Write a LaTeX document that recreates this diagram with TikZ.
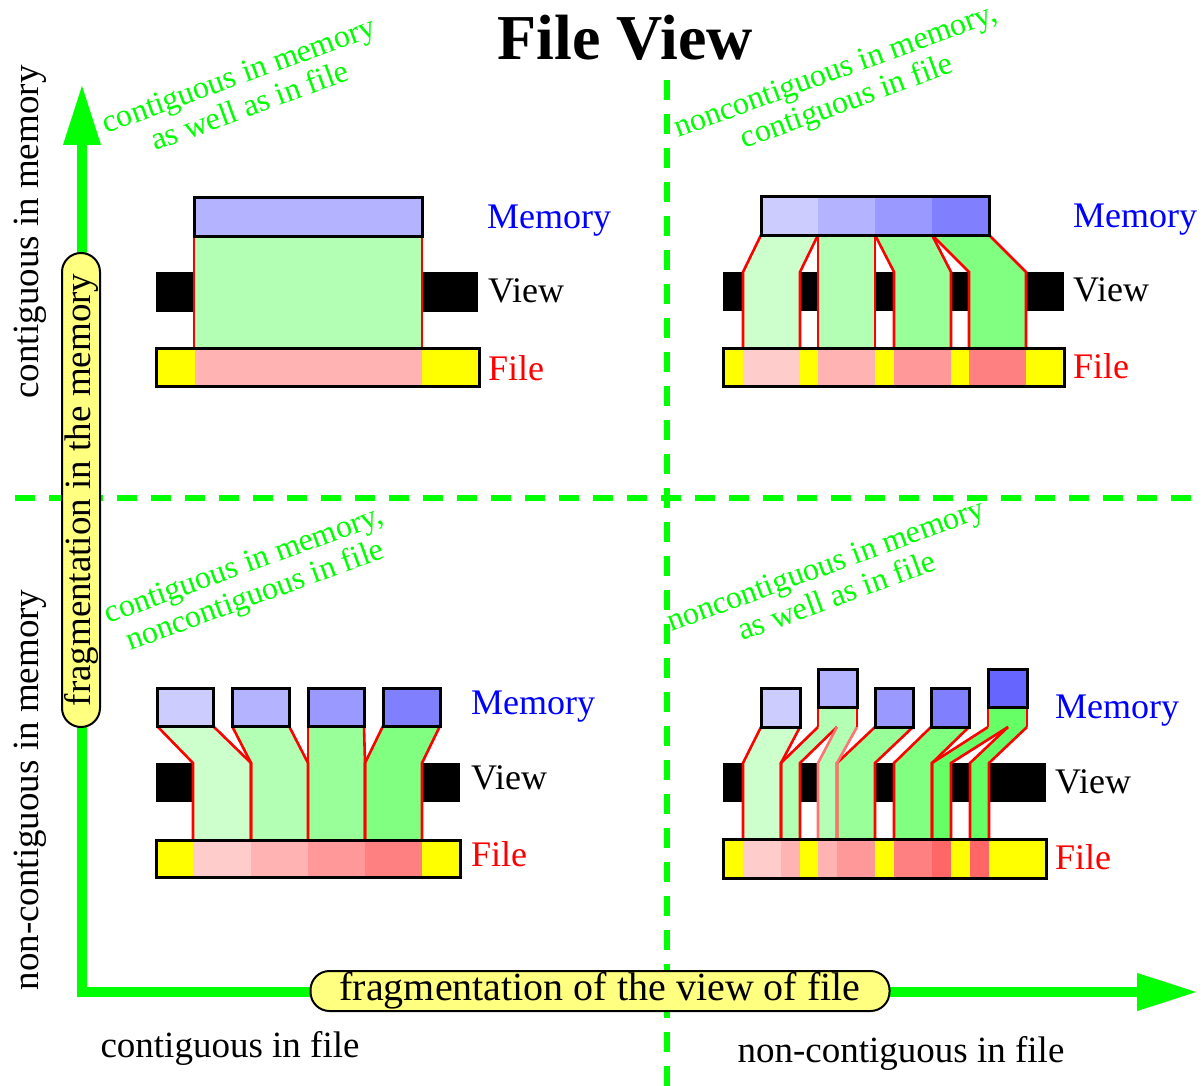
\documentclass[tikz,border=0pt]{standalone}
\usepackage{fontspec}
\setmainfont{Liberation Serif}
\usetikzlibrary{arrows.meta}

\definecolor{axisgreen}{HTML}{00FF00}
\definecolor{pillfill}{HTML}{FFFF80}
\definecolor{memblue}{HTML}{0000FF}
\definecolor{filered}{HTML}{FF0000}
\definecolor{gapyellow}{HTML}{FFFF00}
\definecolor{bA}{HTML}{CCCCFF}
\definecolor{bB}{HTML}{B3B3FF}
\definecolor{bC}{HTML}{9999FF}
\definecolor{bD}{HTML}{8080FF}
\definecolor{bE}{HTML}{6666FF}
\definecolor{gA}{HTML}{CCFFCC}
\definecolor{gB}{HTML}{B3FFB3}
\definecolor{gC}{HTML}{99FF99}
\definecolor{gD}{HTML}{80FF80}
\definecolor{gE}{HTML}{66FF66}
\definecolor{pA}{HTML}{FFCCCC}
\definecolor{pB}{HTML}{FFB3B3}
\definecolor{pC}{HTML}{FF9999}
\definecolor{pD}{HTML}{FF8080}
\definecolor{pE}{HTML}{FF6666}

% a flow piece: top span (x1,x2) at y_top, bent to (x3,x4) at y_bend, straight down to y_bot
\newcommand\flowfill[8]{\fill[#1] (#2,#4) -- (#3,#4) -- (#6,#7) -- (#6,#8) -- (#5,#8) -- (#5,#7) -- cycle;}
\newcommand\flowedge[8]{\draw[edge] (#2,#4) -- (#5,#7) -- (#5,#8); \draw[edge] (#3,#4) -- (#6,#7) -- (#6,#8);}
\newcommand\flowedgelight[8]{\draw[edge,draw=red!55] (#2,#4) -- (#5,#7) -- (#5,#8); \draw[edge,draw=red!55] (#3,#4) -- (#6,#7) -- (#6,#8);}

\begin{document}
\begin{tikzpicture}[x=1pt,y=-1pt,line join=miter,
  edge/.style={draw=filered,line width=2.6pt},
  frame/.style={draw=black,line width=3pt},
  viewbar/.style={fill=black},
  guide/.style={draw=axisgreen,line width=6pt,dash pattern=on 20pt off 14pt},
  axis/.style={draw=axisgreen,line width=10pt,
    {Triangle[length=61pt,width=35pt]}-{Triangle[length=61pt,width=35pt]}},
  pill/.style={draw=black,line width=2pt,fill=pillfill,rounded corners=19pt,
    inner sep=0pt,font=\fontsize{37}{40}\selectfont},
  axislabel/.style={font=\fontsize{37}{40}\selectfont,inner sep=0pt},
  quadlabel/.style={font=\fontsize{32}{33}\selectfont,text=axisgreen,
    rotate=20,align=center,inner sep=0pt},
  tag/.style={font=\fontsize{36}{40}\selectfont,inner sep=0pt,anchor=base west}]

\useasboundingbox (0,0) rectangle (1204,1086);

% quadrant separators
\draw[guide] (667,80) -- (667,1086);
\draw[guide] (15,498) -- (1204,498);

% axes
\draw[axis] (82,84) -- (82,992) -- (1198,992);
\node[pill,minimum width=474pt,minimum height=38pt,rotate=90] (fragmem) at (81,490) {fragmentation in the memory};
\node[pill,minimum width=579pt,minimum height=40pt,font=\fontsize{40}{42}\selectfont] (fragview) at (600,991) {fragmentation of the view of file};

% title and axis texts
\node[font=\bfseries\fontsize{64}{70}\selectfont,inner sep=0pt,anchor=base] (title) at (625,60) {File View};
\node[axislabel,rotate=90] (ymemc) at (30,232) {contiguous in memory};
\node[axislabel,rotate=90] (ymemn) at (30,790) {non-contiguous in memory};
\node[axislabel,anchor=base] (xfilec) at (230,1057) {contiguous in file};
\node[axislabel,anchor=base] (xfilen) at (901,1062) {non-contiguous in file};

% quadrant captions
\node[quadlabel] (capA) at (244,90) {contiguous in memory\\as well as in file};
\node[quadlabel] (capB) at (842,88) {noncontiguous in memory,\\contiguous in file};
\node[quadlabel] (capC) at (250,582) {contiguous in memory,\\noncontiguous in file};
\node[quadlabel] (capD) at (831,580) {noncontiguous in memory\\as well as in file};

% ---- contiguous memory, contiguous file ----
\fill[viewbar] (156,272) rectangle (194,312);
\fill[viewbar] (422,272) rectangle (478,312);
\flowfill{gB}{194}{422}{236}{194}{422}{272}{348}
\flowedge{gB}{194}{422}{236}{194}{422}{272}{348}
\fill[gapyellow] (156,348) rectangle (479,386);
\fill[pB] (195,348) rectangle (422,386);
\draw[frame] (156,348) rectangle (479,386);
\draw[frame,fill=bB] (194,198) rectangle (422,236);
\node[tag,text=memblue] (memA) at (487,228) {Memory};
\node[tag] (viewA) at (488,302) {View};
\node[tag,text=filered] (fileA) at (488,380) {File};

% ---- noncontiguous memory, contiguous file ----
\fill[viewbar] (723,272) rectangle (1064,311);
\newcommand\piecesB[1]{%
  #1{gA}{761}{818}{235}{743}{800}{272}{348}
  #1{gB}{818}{875}{235}{818}{875}{272}{348}
  #1{gC}{875}{932}{235}{894}{951}{272}{348}
  #1{gD}{932}{989}{235}{969}{1026}{272}{348}}
\piecesB\flowfill
\piecesB\flowedge
\fill[gapyellow] (723,348) rectangle (1064,386);
\fill[pA] (743,348) rectangle (800,386);
\fill[pB] (818,348) rectangle (875,386);
\fill[pC] (894,348) rectangle (951,386);
\fill[pD] (969,348) rectangle (1026,386);
\draw[frame] (723,348) rectangle (1064,386);
\fill[bA] (761,197) rectangle (818,235);
\fill[bB] (818,197) rectangle (875,235);
\fill[bC] (875,197) rectangle (932,235);
\fill[bD] (932,197) rectangle (989,235);
\draw[frame] (761,197) rectangle (989,235);
\node[tag,text=memblue] (memB) at (1073,227) {Memory};
\node[tag] (viewB) at (1073,301) {View};
\node[tag,text=filered] (fileB) at (1073,378) {File};

% ---- contiguous memory, noncontiguous file ----
\fill[viewbar] (156,763) rectangle (193,802);
\fill[viewbar] (422,763) rectangle (460,802);
\newcommand\piecesC[1]{%
  #1{gA}{157}{213}{726}{193}{251}{763}{840}
  #1{gB}{232}{289}{726}{251}{308}{763}{840}
  #1{gC}{308}{364}{726}{308}{365}{763}{840}
  #1{gD}{383}{440}{726}{365}{422}{763}{840}}
\piecesC\flowfill
\piecesC\flowedge
\fill[gapyellow] (156,840) rectangle (460,877);
\fill[pA] (193,840) rectangle (251,877);
\fill[pB] (251,840) rectangle (308,877);
\fill[pC] (308,840) rectangle (365,877);
\fill[pD] (365,840) rectangle (422,877);
\draw[frame] (156,840) rectangle (460,877);
\draw[frame,fill=bA] (157,688) rectangle (213,726);
\draw[frame,fill=bB] (232,688) rectangle (289,726);
\draw[frame,fill=bC] (308,688) rectangle (364,726);
\draw[frame,fill=bD] (383,688) rectangle (440,726);
\node[tag,text=memblue] (memC) at (471,714) {Memory};
\node[tag] (viewC) at (471,789) {View};
\node[tag,text=filered] (fileC) at (471,866) {File};

% ---- noncontiguous memory, noncontiguous file ----
\fill[viewbar] (723,763) rectangle (1046,802);
\fill[gB] (818,705) rectangle (857,727);
\fill[gE] (988,705) rectangle (1027,727);
\newcommand\piecesD[1]{%
  #1{gA}{761}{800}{727}{743}{781}{763}{839}
  #1{gB}{818}{837}{727}{781}{800}{763}{839}
  #1{gC}{875}{913}{727}{837}{875}{763}{839}
  #1{gD}{931}{969}{727}{894}{932}{763}{839}
  #1{gE}{988}{1008}{727}{932}{951}{763}{839}
  #1{gE}{1008}{1027}{727}{970}{989}{763}{839}}
\piecesD\flowfill
\flowfill{gB}{837}{857}{727}{818}{837}{763}{839}
\piecesD\flowedge
\flowedgelight{gB}{837}{857}{727}{818}{837}{763}{839}
\draw[edge] (818,707) -- (818,727);
\draw[edge] (857,707) -- (857,727);
\draw[edge] (988,707) -- (988,727);
\draw[edge] (1027,707) -- (1027,727);
\fill[gapyellow] (723,839) rectangle (1046,878);
\fill[pA] (743,839) rectangle (781,878);
\fill[pB] (781,839) rectangle (800,878);
\fill[pB] (818,839) rectangle (837,878);
\fill[pC] (837,839) rectangle (875,878);
\fill[pD] (894,839) rectangle (932,878);
\fill[pE] (932,839) rectangle (951,878);
\fill[pE] (970,839) rectangle (989,878);
\draw[frame] (723,839) rectangle (1046,878);
\draw[frame,fill=bA] (761,688) rectangle (800,727);
\draw[frame,fill=bB] (818,669) rectangle (857,707);
\draw[frame,fill=bC] (875,688) rectangle (913,727);
\draw[frame,fill=bD] (931,688) rectangle (969,727);
\draw[frame,fill=bE] (988,669) rectangle (1027,707);
\node[tag,text=memblue] (memD) at (1055,718) {Memory};
\node[tag] (viewD) at (1055,793) {View};
\node[tag,text=filered] (fileD) at (1055,869) {File};

\end{tikzpicture}
\end{document}
